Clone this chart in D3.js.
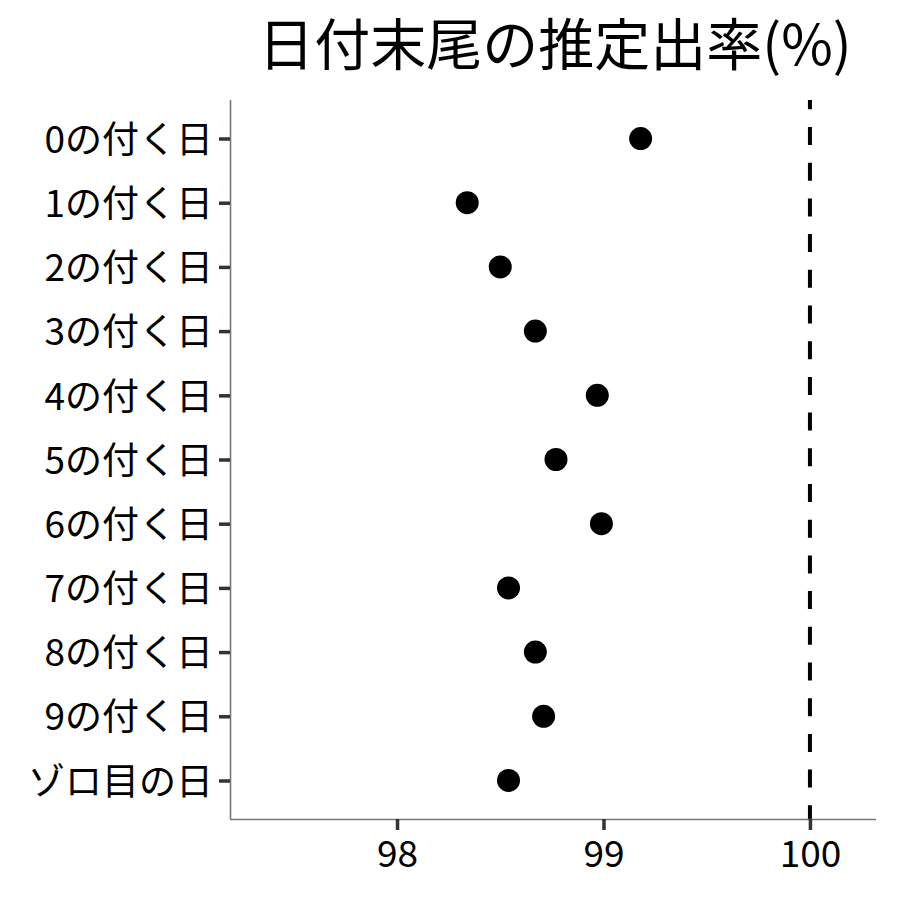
<!DOCTYPE html>
<html>
<head>
<meta charset="utf-8">
<script src="https://cdn.jsdelivr.net/npm/d3@7"></script>
<style>
  body { margin: 0; background: #fff; }
  svg text { font-family: "Noto Sans CJK JP", "Noto Sans", sans-serif; fill: #000; }
</style>
</head>
<body>
<div id="chart"></div>
<script>
// categories (top to bottom) and estimated rates
const categories = ['0の付く日', '1の付く日', '2の付く日', '3の付く日', '4の付く日',
  '5の付く日', '6の付く日', '7の付く日', '8の付く日', '9の付く日', 'ゾロ目の日'];
const rates = [99.18, 98.34, 98.50, 98.67, 98.97, 98.77, 98.99, 98.54, 98.67, 98.71, 98.54];
const xTicks = [98, 99, 100];
const refValue = 100;
const title = '日付末尾の推定出率(%)';

const data = categories.map((c, i) => ({cat: c, rate: rates[i]}));

const W = 900, H = 900;
const margin = {top: 100, right: 24, bottom: 81, left: 230};
const width = W - margin.left - margin.right;
const height = H - margin.top - margin.bottom;

const svg = d3.select('#chart').append('svg')
  .attr('width', W)
  .attr('height', H);

const g = svg.append('g')
  .attr('transform', `translate(${margin.left}, ${margin.top})`);

// x: continuous, y: discrete with ggplot-like 0.6 expansion
const x = d3.scaleLinear().domain([97.191, 100.32]).range([0, width]);
const n = categories.length;
const step = height / (n - 1 + 1.2);
const y = d3.scalePoint().domain(categories).range([0.6 * step, height - 0.6 * step]);

// reference line at 100, dashes drawn from the bottom up
g.append('line')
  .attr('x1', x(refValue)).attr('x2', x(refValue))
  .attr('y1', height).attr('y2', 0)
  .attr('stroke', '#000')
  .attr('stroke-width', 4)
  .attr('stroke-dasharray', '18,17.7')
  .attr('stroke-dashoffset', 4.3);

// axes
const xAxis = d3.axisBottom(x).tickValues(xTicks).tickFormat(d3.format('d'))
  .tickSize(11).tickPadding(10).tickSizeOuter(0);
const yAxis = d3.axisLeft(y).tickSize(11).tickPadding(6).tickSizeOuter(0);

const gx = g.append('g')
  .attr('transform', `translate(0, ${height})`)
  .call(xAxis);
const gy = g.append('g').call(yAxis);

[gx, gy].forEach(a => {
  a.select('.domain').attr('stroke', '#777').attr('stroke-width', 1.6);
  a.selectAll('.tick line').attr('stroke', '#333').attr('stroke-width', 3.5);
  a.selectAll('.tick text')
    .attr('font-size', 37)
    .attr('fill', '#000');
});
gx.select('.domain').attr('d', `M0,0.5H${width}`);
gy.select('.domain').attr('d', `M0.5,0V${height}`);
gx.selectAll('.tick text').attr('dy', '0.72em');
gy.selectAll('.tick text').attr('dy', '0.37em');

// points
g.selectAll('circle.pt')
  .data(data)
  .enter()
  .append('circle')
  .attr('class', 'pt')
  .attr('cx', d => x(d.rate))
  .attr('cy', d => y(d.cat))
  .attr('r', 11.5)
  .attr('fill', '#000');

// title, centred over the panel
svg.append('text')
  .attr('x', margin.left + width / 2 + 2)
  .attr('y', 65)
  .attr('text-anchor', 'middle')
  .attr('font-size', 56)
  .text(title);
</script>
</body>
</html>
